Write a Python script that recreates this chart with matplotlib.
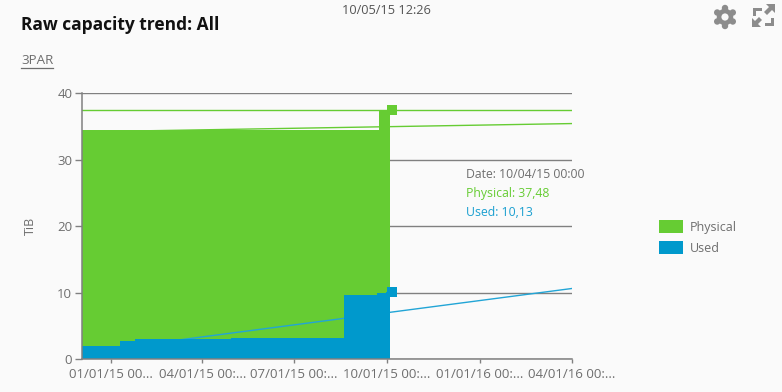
import matplotlib
matplotlib.use("Agg")
import matplotlib.pyplot as plt
import matplotlib.dates as mdates
from matplotlib.patches import Circle, Polygon, RegularPolygon
from matplotlib.transforms import Affine2D
import numpy as np

plt.rcParams['font.family'] = ['Open Sans', 'DejaVu Sans']

GREEN = '#66cc33'
BLUE = '#0099cc'
GREY = '#6e6e6e'
BG = '#fafafa'

# Data
physical_dates = ['2014-12-03', '2015-09-23', '2015-10-04']
physical_values = [34.42, 37.48, 37.48]
used_dates = ['2014-12-03', '2015-01-10', '2015-01-24', '2015-04-29',
              '2015-08-19', '2015-09-21', '2015-09-30', '2015-10-04']
used_values = [2.05, 2.7, 3.0, 3.2, 9.67, 10.03, 10.13, 10.13]
range_dates = ['2014-12-03', '2016-04-01']
physical_flat = [37.48, 37.48]
physical_trend = [34.2, 35.45]
used_trend = [1.0, 10.65]
marker_date = ['2015-10-06']
marker_physical = [37.48]
marker_used = [10.13]
tick_dates = ['2015-01-01', '2015-04-01', '2015-07-01', '2015-10-01', '2016-01-01', '2016-04-01']
tick_labels = ['01/01/15 00...', '04/01/15 00:...', '07/01/15 00:...',
               '10/01/15 00:...', '01/01/16 00:...', '04/01/16 00:...']
y_ticks = [0, 10, 20, 30, 40]


def d(seq):
    return mdates.date2num(np.array(seq, dtype='datetime64[D]'))


W, H = 782, 392
fig = plt.figure(figsize=(W / 100, H / 100), dpi=100, facecolor=BG)
L, R, T, B = 82, 572, 93.3, 359.3
ax = fig.add_axes([L / W, 1 - B / H, (R - L) / W, (B - T) / H], facecolor=BG)

ax.fill_between(d(physical_dates), physical_values, step='post', color=GREEN, lw=0, zorder=2, label='Physical')
ax.plot(d(range_dates), physical_flat, color=GREEN, lw=1.0, zorder=3)
ax.plot(d(range_dates), physical_trend, color=GREEN, lw=1.0, zorder=3)
ax.plot(d(range_dates), used_trend, color='#22a5d6', lw=1.0, zorder=3)
ax.fill_between(d(used_dates), used_values, step='post', color=BLUE, lw=0, zorder=4, label='Used')
ax.plot(d(marker_date), marker_physical, 's', ms=7.2, color=GREEN, mew=0, zorder=5, clip_on=False)
ax.plot(d(marker_date), marker_used, 's', ms=7.2, color=BLUE, mew=0, zorder=5, clip_on=False)

ax.set_xlim(d(range_dates)[0], d(range_dates)[1])
ax.set_ylim(0, 40)
ax.set_xticks(d(tick_dates), tick_labels)
ax.set_yticks(y_ticks)
ax.grid(axis='y', color='#808080', lw=1.0, zorder=1)
ax.set_axisbelow(True)
for s in ['top', 'right']:
    ax.spines[s].set_visible(False)
for s in ['left', 'bottom']:
    ax.spines[s].set_color('#808080')
    ax.spines[s].set_linewidth(1.1)
    ax.spines[s].set_zorder(6)
ax.tick_params(axis='x', colors=GREY, labelsize=9.5, length=3, width=1, pad=3, color='#808080')
ax.tick_params(axis='y', colors=GREY, labelsize=9.5, length=5, width=1, pad=2, color='#808080')
ax.set_ylabel('TiB', color=GREY, fontsize=9, labelpad=0)
ax.yaxis.set_label_coords((37 - L) / (R - L), 0.5)

h, l = ax.get_legend_handles_labels()
leg = fig.legend(h, l, loc='upper left', bbox_to_anchor=(659 / W, 1 - 220 / H), frameon=False,
                 fontsize=9, labelcolor=GREY, handlelength=1.9, handleheight=1.2,
                 handletextpad=0.55, labelspacing=0.6, borderpad=0, borderaxespad=0)

def px(x, y):
    return x / W, 1 - y / H

fig.text(*px(21, 25), 'Raw capacity trend: All', fontsize=12.5, fontweight='bold', color='#111111', va='center')
fig.text(*px(342, 10), '10/05/15 12:26', fontsize=9.2, color='#555555', va='center')
t = fig.text(*px(21, 60), '3PAR', fontsize=9.6, color=GREY, va='center')
fig.add_artist(plt.Line2D([21 / W, 53 / W], [1 - 67.5 / H] * 2, color=GREY, lw=0.9))
fig.text(*px(466, 174), 'Date: 10/04/15 00:00', fontsize=8.8, color=GREY, va='center')
fig.text(*px(466, 193), 'Physical: 37,48', fontsize=8.8, color=GREEN, va='center')
fig.text(*px(466, 212), 'Used: 10,13', fontsize=8.8, color='#1a9fd0', va='center')

# Header icons, placed in pixel coordinates
pix = Affine2D().scale(1, -1).translate(0, H)
ICON = '#8c8c8c'
for a in np.deg2rad(np.arange(0, 360, 60) + 90):
    fig.add_artist(Circle((725 + 9 * np.cos(a), 17 + 9 * np.sin(a)), 3.2, color=ICON, lw=0, transform=pix))
fig.add_artist(RegularPolygon((725, 17), 6, radius=9.5, color=ICON, lw=0, transform=pix))
fig.add_artist(Circle((725, 17), 3.6, color=BG, lw=0, transform=pix))
arrows = [
    # top-left bracket
    [(753, 16), (753, 8), (762, 8), (762, 11), (756, 11), (756, 16)],
    # bottom-right bracket
    [(771, 18), (774, 18), (774, 26), (765, 26), (765, 23), (771, 23)],
    # top-right arrow
    [(766, 4), (775, 4), (775, 13), (772, 10), (767, 15), (764, 12), (769, 7)],
    # bottom-left arrow
    [(752, 18), (755, 21), (759, 17), (762, 20), (758, 24), (761, 27), (752, 27)],
]
for p in arrows:
    fig.add_artist(Polygon(p, closed=True, color=ICON, lw=0, transform=pix))

fig.savefig('out.png', dpi=100, facecolor=BG)
